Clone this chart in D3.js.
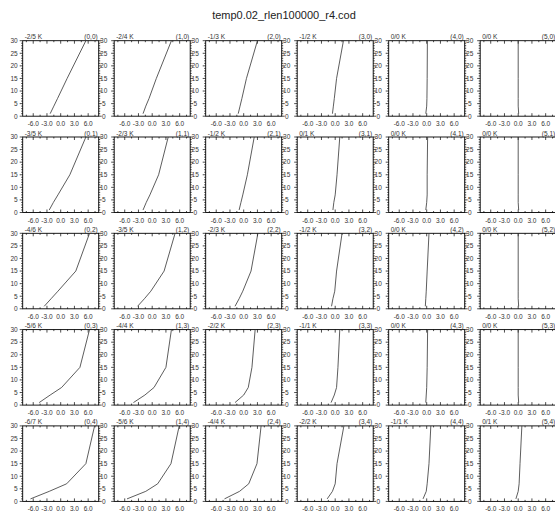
<!DOCTYPE html>
<html><head><meta charset="utf-8">
<script src="https://cdn.jsdelivr.net/npm/d3@7/dist/d3.min.js"></script>
<style>
body{margin:0;background:#fff}
text{font-family:"Liberation Sans",Arial,Helvetica,sans-serif}
</style>
</head><body>
<svg id="chart" width="555" height="512"></svg>
<script>
const title = "temp0.02_rlen100000_r4.cod";
const heights = [1, 4, 7, 15, 30];
const xTicks = [-6, -3, 0, 3, 6];
const yTicks = [0, 5, 10, 15, 20, 25, 30];
const xDomain = [-8.3, 8.3];
const yDomain = [0, 30];

const labelsRow0 = ["-2/5 K", "-2/4 K", "-1/3 K", "-1/2 K", "0/0 K", "0/0 K"];
const labelsRow1 = ["-3/5 K", "-2/3 K", "-1/2 K", "0/1 K", "0/0 K", "0/0 K"];
const labelsRow2 = ["-4/6 K", "-3/5 K", "-2/3 K", "-1/2 K", "0/0 K", "0/0 K"];
const labelsRow3 = ["-5/6 K", "-4/4 K", "-2/2 K", "-1/1 K", "0/0 K", "0/0 K"];
const labelsRow4 = ["-6/7 K", "-5/6 K", "-4/4 K", "-2/2 K", "-1/1 K", "0/1 K"];

// x value of the profile at each of the heights, per panel
const profRow0 = [
  [-2.3, -1.5, -0.7, 1.4, 5.5],
  [-2.0, -1.4, -0.7, 0.9, 4.2],
  [-1.2, -0.8, -0.4, 0.6, 3.0],
  [-0.6, -0.4, -0.2, 0.3, 1.8],
  [-0.2, 0.0, 0.05, 0.1, 0.15],
  [0.1, 0.0, 0.0, 0.0, 0.0]
];
const profRow1 = [
  [-2.5, -1.6, -0.6, 2.0, 5.5],
  [-2.0, -1.3, -0.5, 1.4, 3.5],
  [-1.0, -0.6, -0.2, 0.8, 2.3],
  [-0.5, -0.3, 0.0, 0.4, 1.0],
  [-0.2, 0.0, 0.1, 0.1, 0.2],
  [0.1, 0.0, 0.0, 0.0, 0.0]
];
const profRow2 = [
  [-3.6, -2.1, -0.6, 3.3, 6.3],
  [-3.2, -1.7, -0.3, 2.6, 5.0],
  [-1.9, -1.0, -0.2, 1.6, 3.1],
  [-0.8, -0.5, -0.1, 0.3, 1.5],
  [-0.3, -0.2, -0.1, 0.1, 0.5],
  [0.1, 0.0, 0.0, 0.0, 0.0]
];
const profRow3 = [
  [-4.7, -2.3, 0.2, 4.2, 6.3],
  [-4.1, -1.6, 0.4, 3.0, 4.2],
  [-1.9, 0.0, 1.0, 1.8, 2.5],
  [-0.9, -0.2, 0.3, 0.6, 1.0],
  [-0.2, -0.1, 0.0, 0.1, 0.2],
  [0.1, 0.0, 0.0, 0.0, 0.0]
];
const profRow4 = [
  [-6.6, -2.5, 1.3, 5.5, 7.4],
  [-5.5, -1.4, 1.2, 4.1, 5.9],
  [-4.2, -0.9, 1.1, 2.9, 3.8],
  [-1.75, -0.6, 0.0, 0.4, 1.9],
  [-0.8, -0.1, 0.1, 0.5, 0.9],
  [-0.5, 0.0, 0.2, 0.4, 0.8]
];

const labels = [labelsRow0, labelsRow1, labelsRow2, labelsRow3, labelsRow4];
const profiles = [profRow0, profRow1, profRow2, profRow3, profRow4];

const svg = d3.select("#chart");
const W = 76, H = 75.5;
const left0 = 22.7, top0 = 40.7, dx = 91.5, dy = 96.3;

svg.append("text").attr("x", 284).attr("y", 19).attr("text-anchor", "middle")
  .attr("font-size", 11).attr("fill", "#222").text(title);

const xMinor = d3.range(-7.5, 8.0, 1.5);
const yMinor = d3.range(0, 31, 1);

for (let r = 0; r < 5; r++) {
  for (let c = 0; c < 6; c++) {
    const x0 = left0 + c * dx, y0 = top0 + r * dy;
    const xs = d3.scaleLinear().domain(xDomain).range([x0, x0 + W]);
    const ys = d3.scaleLinear().domain(yDomain).range([y0 + H, y0]);
    const g = svg.append("g");

    const tk = g.append("g").attr("stroke", "#000").attr("stroke-width", 0.7);
    xMinor.forEach(v => {
      const len = xTicks.includes(v) ? 3 : 1.5;
      tk.append("line").attr("x1", xs(v)).attr("x2", xs(v)).attr("y1", y0 + H).attr("y2", y0 + H - len);
      tk.append("line").attr("x1", xs(v)).attr("x2", xs(v)).attr("y1", y0).attr("y2", y0 + len);
    });
    yMinor.forEach(v => {
      const len = yTicks.includes(v) ? 3 : 1.5;
      tk.append("line").attr("x1", x0).attr("x2", x0 - len).attr("y1", ys(v)).attr("y2", ys(v));
      tk.append("line").attr("x1", x0 + W).attr("x2", x0 + W + len).attr("y1", ys(v)).attr("y2", ys(v));
    });

    g.append("rect").attr("x", x0).attr("y", y0).attr("width", W).attr("height", H)
      .attr("fill", "none").attr("stroke", "#000").attr("stroke-width", 0.9);

    xTicks.forEach(v => {
      g.append("text").attr("x", xs(v)).attr("y", y0 + H + 10).attr("text-anchor", "middle")
        .attr("font-size", 6.5).attr("fill", "#333").text(v.toFixed(1));
    });
    yTicks.forEach(v => {
      if (c === 0) {
        g.append("text").attr("x", x0 - 5).attr("y", ys(v) + 2.3).attr("text-anchor", "end")
          .attr("font-size", 6.5).attr("fill", "#333").text(v);
      }
      if (c < 5) {
        g.append("text").attr("x", x0 + W + 5).attr("y", ys(v) + 2.3).attr("text-anchor", "middle")
          .attr("font-size", 6.5).attr("fill", "#333").text(v);
      }
    });

    g.append("text").attr("x", x0 + 2).attr("y", y0 - 1.5).attr("font-size", 6.5)
      .attr("fill", "#333").text(labels[r][c]);
    g.append("text").attr("x", x0 + W - 1).attr("y", y0 - 1.5).attr("font-size", 6.5)
      .attr("text-anchor", "end").attr("fill", "#333").text("(" + c + "," + r + ")");

    const pts = heights.map((h, i) => [profiles[r][c][i], h]);
    g.append("path").datum(pts)
      .attr("d", d3.line().x(d => xs(d[0])).y(d => ys(d[1])))
      .attr("fill", "none").attr("stroke", "#333").attr("stroke-width", 0.8);
  }
}
</script>
</body></html>
